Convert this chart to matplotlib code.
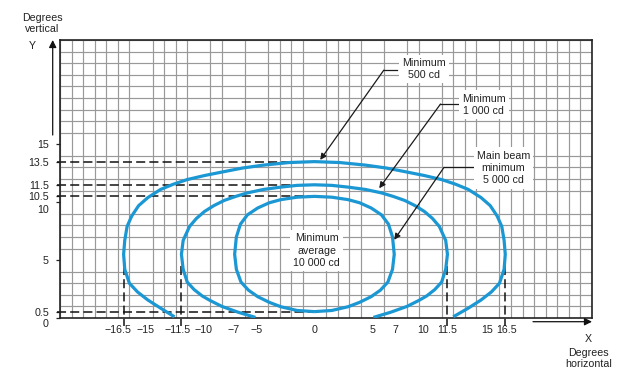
import numpy as np
import matplotlib
matplotlib.use('Agg')
import matplotlib.pyplot as plt
from matplotlib.transforms import ScaledTranslation

plt.rcParams['font.family'] = ['Liberation Sans', 'DejaVu Sans']
plt.rcParams['lines.scale_dashes'] = False

# ---------------- data (degrees) ----------------
# Minimum 500 cd contour
outer_x = [-12.1, -13.3, -14.4, -15.3, -16.0, -16.4, -16.5, -16.4, -16.2, -15.8, -15.2, -14.4,
           -13.3, -12.2, -11.0, -9.5, -8.0, -6.2, -4.4, -2.2, 0.0,
           2.2, 4.4, 6.2, 8.0, 9.5, 11.0, 12.2, 13.3, 14.4, 15.2, 15.8, 16.2, 16.4, 16.5,
           16.4, 16.0, 15.3, 14.4, 13.3, 12.0]
outer_y = [0.1, 0.85, 1.55, 2.25, 3.0, 4.2, 5.5, 6.7, 7.9, 8.8, 9.7, 10.4,
           11.1, 11.55, 11.95, 12.3, 12.6, 12.95, 13.2, 13.42, 13.5,
           13.42, 13.2, 12.95, 12.6, 12.3, 11.95, 11.55, 11.1, 10.4, 9.7, 8.8, 7.9, 6.7, 5.5,
           4.2, 3.0, 2.25, 1.55, 0.85, 0.1]

# Minimum 1 000 cd contour
middle_x = [-5.1, -6.6, -8.0, -9.0, -9.7, -10.4, -11.0, -11.35, -11.5, -11.35, -10.8, -10.2,
            -9.5, -8.7, -7.8, -6.8, -5.8, -4.4, -2.9, -1.5, 0.0,
            1.5, 2.9, 4.4, 5.8, 6.8, 7.8, 8.7, 9.5, 10.2, 10.8, 11.35, 11.5,
            11.35, 11.0, 10.4, 9.7, 9.0, 8.0, 6.6, 5.1]
middle_y = [0.05, 0.5, 1.0, 1.5, 1.9, 2.45, 3.1, 4.2, 5.5, 6.7, 7.9, 8.6,
            9.2, 9.7, 10.15, 10.5, 10.8, 11.1, 11.3, 11.45, 11.5,
            11.45, 11.3, 11.1, 10.8, 10.5, 10.15, 9.7, 9.2, 8.6, 7.9, 6.7, 5.5,
            4.2, 3.1, 2.45, 1.9, 1.5, 1.0, 0.5, 0.05]

# Main beam minimum 5 000 cd contour (closed)
inner_x = [0.0, -1.5, -2.9, -3.9, -4.9, -5.7, -6.35, -6.75, -6.9, -6.75, -6.4, -5.8,
           -4.9, -3.9, -2.9, -1.5, 0.0,
           1.5, 2.9, 3.9, 4.9, 5.8, 6.4, 6.75, 6.9, 6.75, 6.35, 5.7, 4.9, 3.9, 2.9, 1.5, 0.0]
inner_y = [0.55, 0.65, 0.97, 1.35, 1.84, 2.4, 3.1, 4.2, 5.5, 7.0, 8.1, 8.9,
           9.5, 9.95, 10.22, 10.43, 10.5,
           10.43, 10.22, 9.95, 9.5, 8.9, 8.1, 7.0, 5.5, 4.2, 3.1, 2.4, 1.84, 1.35, 0.97, 0.65, 0.55]

xtick_vals = [-16.5, -15, -11.5, -10, -7, -5, 0, 5, 7, 10, 11.5, 15, 16.5]
xtick_labels = ['\u221216.5', '\u221215', '\u221211.5', '\u221210', '\u22127', '\u22125',
                '0', '5', '7', '10', '11.5', '15', '16.5']
ytick_vals = [0, 0.5, 5, 10, 10.5, 11.5, 13.5, 15]
ytick_labels = ['0', '0.5', '5', '10', '10.5', '11.5', '13.5', '15']

h_dash_y = [13.5, 11.5, 10.5, 0.5]
v_dash_x = [-16.5, -11.5, 11.5, 16.5]

callout_texts = ['Minimum\n500 cd', 'Minimum\n1 000 cd', 'Main beam\nminimum\n5 000 cd']
callout_tip_x = [0.5, 5.6, 6.9]
callout_tip_y = [13.65, 11.2, 6.75]
center_text = 'Minimum\naverage\n10 000 cd'

# ---------------- layout ----------------
W, H = 634, 391
fig = plt.figure(figsize=(W / 100, H / 100), dpi=100)
ax = fig.add_axes([60 / W, 73 / H, 532 / W, 278 / H])
ax.set_xlim(-22, 24)
ax.set_ylim(0, 24)

TXT = '#222222'
BLUE = '#1b97d3'
FS = 7.7

ax.set_xticks(np.arange(-22, 25, 1), minor=True)
ax.set_yticks(np.arange(0, 25, 1), minor=True)
ax.grid(which='minor', color='#999999', lw=0.85, zorder=0)
ax.tick_params(which='minor', length=0)
ax.set_axisbelow(True)

ax.set_xticks(xtick_vals, xtick_labels)
ax.set_yticks(ytick_vals, ytick_labels)
ax.tick_params(axis='x', which='major', length=0, pad=5, labelsize=FS, labelcolor=TXT)
ax.tick_params(axis='y', which='major', length=3, width=0.9, pad=5, labelsize=FS,
               labelcolor=TXT, color=TXT)

x_off_px = {'\u221216.5': -6, '\u221215': 5, '\u221211.5': -4, '\u221210': 5, '10': -7, '15': -1,
            '16.5': 1}
for lab in ax.get_xticklabels():
    dx = x_off_px.get(lab.get_text(), 0)
    if dx:
        lab.set_transform(lab.get_transform() + ScaledTranslation(dx / 100, 0, fig.dpi_scale_trans))
y_off_px = {'0': -5, '10': -7}
for lab in ax.get_yticklabels():
    dy = y_off_px.get(lab.get_text(), 0)
    if dy:
        lab.set_transform(lab.get_transform() + ScaledTranslation(0, dy / 100, fig.dpi_scale_trans))

for s in ax.spines.values():
    s.set_linewidth(1.2)
    s.set_color(TXT)

# dashed reference lines
for yv in h_dash_y:
    ax.plot([-22.25, 0], [yv, yv], color='#111111', lw=1.1, dashes=(6.5, 3), zorder=2, clip_on=False)
for xv in v_dash_x:
    ax.plot([xv, xv], [4.5, -0.7], color='#111111', lw=1.1, dashes=(6.5, 3), zorder=2, clip_on=False)

# contours
for cx, cy in [(outer_x, outer_y), (middle_x, middle_y), (inner_x, inner_y)]:
    ax.plot(cx, cy, color=BLUE, lw=2.3, zorder=3, solid_capstyle='butt', solid_joinstyle='round')

# callouts
box = dict(boxstyle='square,pad=0.3', fc='white', ec='none')
text_pos = [(9.5, 21.5), (14.65, 18.4), (16.35, 12.95)]
leader_h = [(7.1, 6.0, 21.4), (12.5, 10.9, 18.47), (14.1, 11.2, 13.0)]
for t, tx, ty, (tpx, tpy), (h0, h1, hy) in zip(callout_texts, callout_tip_x, callout_tip_y, text_pos, leader_h):
    ax.text(tpx, tpy, t, ha='center', va='center', fontsize=FS, color=TXT, bbox=box, zorder=5,
            linespacing=1.3)
    ax.plot([h0, h1], [hy, hy], color='#1a1a1a', lw=0.9, zorder=4)
    ax.annotate('', xy=(tx, ty), xytext=(h1, hy),
                arrowprops=dict(arrowstyle='-|>', color='#1a1a1a', lw=0.9, mutation_scale=9,
                                shrinkA=0, shrinkB=0), zorder=4)

ax.text(0.2, 5.8, center_text, ha='center', va='center', fontsize=FS, color=TXT, bbox=box,
        zorder=5, linespacing=1.3)

# axis arrows and titles (figure pixels)
ax.annotate('', xy=(52.7, H - 40), xycoords='figure pixels', xytext=(52.7, H - 135),
            textcoords='figure pixels',
            arrowprops=dict(arrowstyle='-|>', color='#111111', lw=0.9, mutation_scale=11,
                            shrinkA=0, shrinkB=0))
ax.annotate('', xy=(592, H - 321.7), xycoords='figure pixels', xytext=(533, H - 321.7),
            textcoords='figure pixels',
            arrowprops=dict(arrowstyle='-|>', color='#111111', lw=0.9, mutation_scale=11,
                            shrinkA=0, shrinkB=0))

fig.text(42 / W, 1 - 23.5 / H, 'Degrees\nvertical', ha='center', va='center', fontsize=FS,
         color=TXT, linespacing=1.2)
fig.text(32 / W, 1 - 46 / H, 'Y', ha='center', va='center', fontsize=FS, color=TXT)
fig.text(588.3 / W, 1 - 339.3 / H, 'X', ha='center', va='center', fontsize=FS, color=TXT)
fig.text(588.3 / W, 1 - 358.5 / H, 'Degrees\nhorizontal', ha='center', va='center', fontsize=FS,
         color=TXT, linespacing=1.2)

fig.savefig('out.png', dpi=100, facecolor='white')
